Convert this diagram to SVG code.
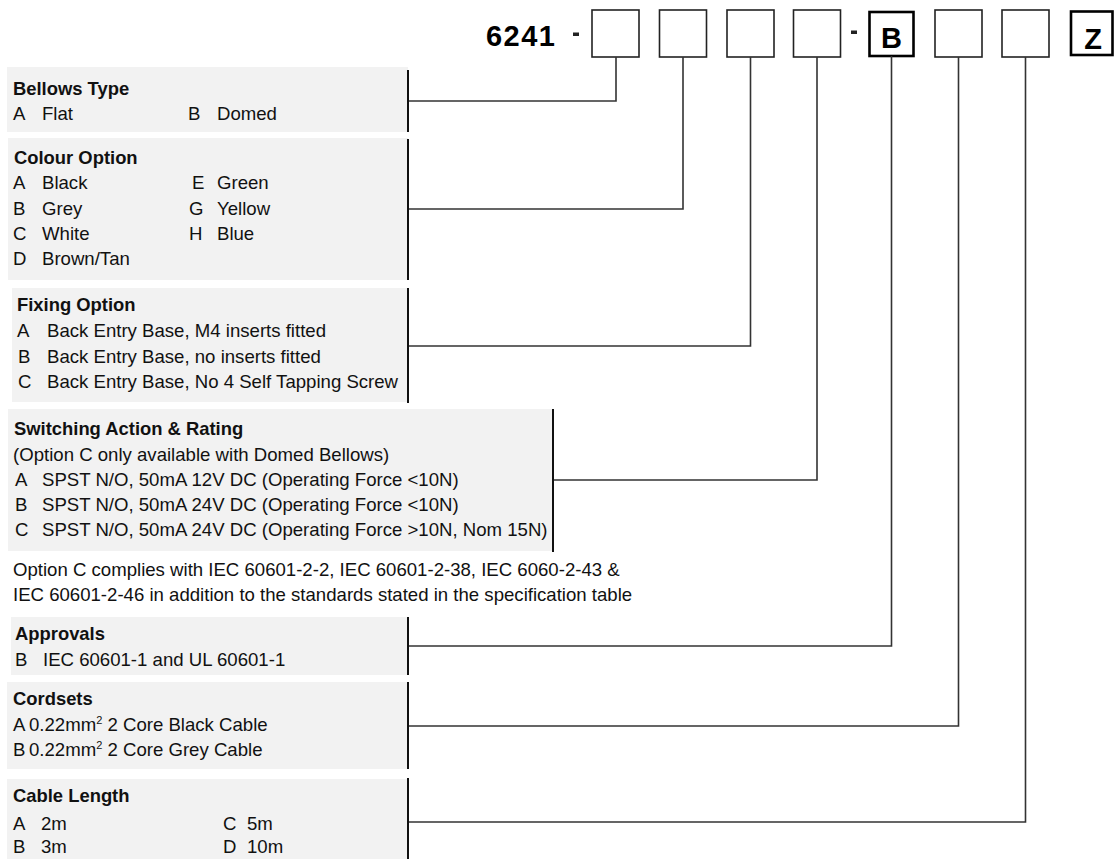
<svg xmlns="http://www.w3.org/2000/svg" width="1114" height="859" viewBox="0 0 1114 859">
<style>
.panel{fill:#f2f2f2;stroke:none}
.edge{stroke:#111;stroke-width:2;fill:none}
.conn{stroke:#333;stroke-width:1.6;fill:none}
.box{fill:#fff;stroke:#222;stroke-width:1.6}
.boxb{fill:#fff;stroke:#000;stroke-width:2.6}
.t{font-family:"Liberation Sans",Arial,sans-serif;font-size:18.6px;fill:#111}
.h{font-family:"Liberation Sans",Arial,sans-serif;font-size:18.4px;font-weight:bold;fill:#111}
.big{font-family:"Liberation Sans",Arial,sans-serif;font-size:29px;font-weight:bold;fill:#000}
.sup{font-size:11px}
</style>
<rect width="1114" height="859" fill="#fff"/>

<g id="part-number">
<text class="big" x="486" y="45.5" textLength="69">6241</text>
<rect x="573" y="32.5" width="6" height="3.5" fill="#222"/>
<rect x="851" y="30.5" width="6" height="3.5" fill="#222"/>
</g>
<g id="box1"><rect class="box" x="592" y="10" width="47" height="47"/></g>
<g id="box2"><rect class="box" x="659.5" y="10" width="47" height="47"/></g>
<g id="box3"><rect class="box" x="727" y="10" width="47" height="47"/></g>
<g id="box4"><rect class="box" x="793.5" y="10" width="47" height="47"/></g>
<g id="box5"><rect class="boxb" x="869.5" y="12" width="44" height="44"/><text class="big" x="891.5" y="48" text-anchor="middle">B</text></g>
<g id="box6"><rect class="box" x="935" y="10" width="47" height="47"/></g>
<g id="box7"><rect class="box" x="1002" y="10" width="47" height="47"/></g>
<g id="box8"><rect class="boxb" x="1071" y="11.5" width="41.5" height="43.5"/><text class="big" x="1093" y="49" text-anchor="middle">Z</text></g>

<g id="connectors">
<polyline class="conn" points="408,101 616,101 616,57"/>
<polyline class="conn" points="408,209 683,209 683,57"/>
<polyline class="conn" points="408,346 750.5,346 750.5,57"/>
<polyline class="conn" points="553,480 817,480 817,57"/>
<polyline class="conn" points="408,646 891.5,646 891.5,56"/>
<polyline class="conn" points="408,726 958.5,726 958.5,57"/>
<polyline class="conn" points="408,822 1025.5,822 1025.5,57"/>
</g>

<g id="bellows-type">
<rect class="panel" x="7" y="67" width="401" height="65"/>
<line class="edge" x1="408" y1="70" x2="408" y2="132"/>
<text class="h" x="13" y="95">Bellows Type</text>
<text class="t" x="13" y="120">A</text><text class="t" x="42" y="120">Flat</text>
<text class="t" x="188" y="120">B</text><text class="t" x="217" y="120">Domed</text>
</g>

<g id="colour-option">
<rect class="panel" x="8" y="138" width="400" height="142"/>
<line class="edge" x1="408" y1="139" x2="408" y2="280"/>
<text class="h" x="14" y="164">Colour Option</text>
<text class="t" x="13" y="189">A</text><text class="t" x="42" y="189">Black</text>
<text class="t" x="13" y="215">B</text><text class="t" x="42" y="215">Grey</text>
<text class="t" x="13" y="240">C</text><text class="t" x="42" y="240">White</text>
<text class="t" x="13" y="265">D</text><text class="t" x="42" y="265">Brown/Tan</text>
<text class="t" x="192" y="189">E</text><text class="t" x="217" y="189">Green</text>
<text class="t" x="189" y="215">G</text><text class="t" x="217" y="215">Yellow</text>
<text class="t" x="189" y="240">H</text><text class="t" x="217" y="240">Blue</text>
</g>

<g id="fixing-option">
<rect class="panel" x="12" y="288" width="396" height="114"/>
<line class="edge" x1="408" y1="288" x2="408" y2="403"/>
<text class="h" x="17" y="311">Fixing Option</text>
<text class="t" x="17" y="337">A</text><text class="t" x="47" y="337">Back Entry Base, M4 inserts fitted</text>
<text class="t" x="18" y="363">B</text><text class="t" x="47" y="363">Back Entry Base, no inserts fitted</text>
<text class="t" x="18" y="388">C</text><text class="t" x="47" y="388">Back Entry Base, No 4 Self Tapping Screw</text>
</g>

<g id="switching-action">
<rect class="panel" x="8" y="409" width="545" height="142"/>
<line class="edge" x1="553" y1="409" x2="553" y2="552"/>
<text class="h" x="14" y="435">Switching Action &amp; Rating</text>
<text class="t" x="13" y="461">(Option C only available with Domed Bellows)</text>
<text class="t" x="15" y="486">A</text><text class="t" x="42" y="486">SPST N/O, 50mA 12V DC (Operating Force &lt;10N)</text>
<text class="t" x="15" y="511">B</text><text class="t" x="42" y="511">SPST N/O, 50mA 24V DC (Operating Force &lt;10N)</text>
<text class="t" x="15" y="536">C</text><text class="t" x="42" y="536">SPST N/O, 50mA 24V DC (Operating Force &gt;10N, Nom 15N)</text>
</g>

<g id="note">
<text class="t" x="13" y="576">Option C complies with IEC 60601-2-2, IEC 60601-2-38, IEC 6060-2-43 &amp;</text>
<text class="t" x="13" y="601">IEC 60601-2-46 in addition to the standards stated in the specification table</text>
</g>

<g id="approvals">
<rect class="panel" x="11" y="617" width="397" height="58"/>
<line class="edge" x1="408" y1="617" x2="408" y2="675"/>
<text class="h" x="15" y="640">Approvals</text>
<text class="t" x="15" y="666">B</text><text class="t" x="43" y="666">IEC 60601-1 and UL 60601-1</text>
</g>

<g id="cordsets">
<rect class="panel" x="7" y="682" width="401" height="87"/>
<line class="edge" x1="408" y1="682" x2="408" y2="769"/>
<text class="h" x="13" y="705">Cordsets</text>
<text class="t" x="13" y="731">A</text><text class="t" x="29" y="731">0.22mm<tspan class="sup" dy="-7">2</tspan><tspan dy="7"> 2 Core Black Cable</tspan></text>
<text class="t" x="13" y="756">B</text><text class="t" x="29" y="756">0.22mm<tspan class="sup" dy="-7">2</tspan><tspan dy="7"> 2 Core Grey Cable</tspan></text>
</g>

<g id="cable-length">
<rect class="panel" x="7" y="779" width="401" height="80"/>
<line class="edge" x1="408" y1="778" x2="408" y2="859"/>
<text class="h" x="13" y="802">Cable Length</text>
<text class="t" x="13" y="830">A</text><text class="t" x="41" y="830">2m</text>
<text class="t" x="13" y="853">B</text><text class="t" x="41" y="853">3m</text>
<text class="t" x="223" y="830">C</text><text class="t" x="247" y="830">5m</text>
<text class="t" x="223" y="853">D</text><text class="t" x="247" y="853">10m</text>
</g>
</svg>
